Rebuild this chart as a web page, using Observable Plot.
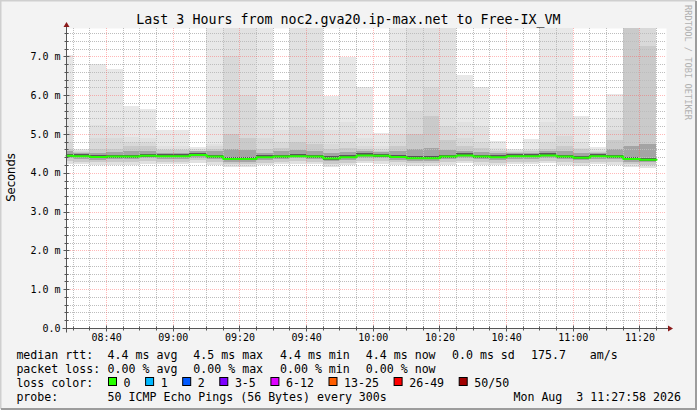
<!DOCTYPE html>
<html><head><meta charset="utf-8">
<script src="https://cdn.jsdelivr.net/npm/d3@7"></script>
<script src="https://cdn.jsdelivr.net/npm/@observablehq/plot@0.6"></script>
<style>
html,body{margin:0;padding:0;background:#f3f3f3;}
svg text{white-space:pre;}
</style></head><body><div id="chart"></div>
<script>
// ---------- data (values in milliseconds) ----------
const day = "2026-08-03";
const startTime = "08:27:58";
const endTime = "11:27:58";
const stepMinutes = 5;
const times = ["08:25","08:30","08:35","08:40","08:45","08:50","08:55","09:00","09:05","09:10","09:15","09:20",
  "09:25","09:30","09:35","09:40","09:45","09:50","09:55","10:00","10:05","10:10","10:15","10:20",
  "10:25","10:30","10:35","10:40","10:45","10:50","10:55","11:00","11:05","11:10","11:15","11:20"];
const median = [4.45,4.44,4.42,4.43,4.43,4.45,4.44,4.44,4.47,4.43,4.37,4.37,4.41,4.43,4.44,4.43,4.38,4.41,4.46,4.45,4.42,4.39,4.39,4.43,4.46,4.43,4.41,4.44,4.44,4.46,4.43,4.40,4.44,4.43,4.37,4.35];
// smoke: upper edges of the ping pairs (k = pings outside the band)
const hi1  = [7.03,4.62,6.80,6.68,5.71,5.65,5.09,5.09,4.67,9,9,9,9,6.39,9,9,5.98,6.97,6.22,5.03,9,9,9,9,6.52,6.21,4.83,4.62,4.88,9,9,5.45,4.66,6.03,9,9];
const hi2  = [5.07,4.58,5.24,5.20,4.91,4.90,4.70,4.70,4.62,4.73,9,9,5.62,5.10,9,9,5.10,5.30,4.90,4.70,6.00,9,9,9,5.30,5.20,4.65,4.58,4.62,5.30,5.60,4.80,4.60,5.40,9,9];
const hi3  = [4.80,4.56,4.90,4.90,4.80,4.78,4.60,4.60,4.60,4.68,7.00,6.00,4.90,4.80,5.20,5.10,4.75,4.80,4.70,4.60,5.00,5.60,6.20,5.20,4.90,4.80,4.58,4.56,4.58,4.80,4.95,4.65,4.56,5.10,9,9];
const hi5  = [4.62,4.54,4.62,4.62,4.68,4.68,4.58,4.58,4.57,4.62,5.00,4.90,4.62,4.65,4.80,4.75,4.60,4.65,4.62,4.57,4.70,5.00,5.45,4.85,4.68,4.65,4.55,4.54,4.56,4.62,4.70,4.62,4.54,4.85,9,7.26];
const hi10 = [4.55,4.52,4.52,4.53,4.55,4.56,4.52,4.52,4.55,4.55,4.60,4.58,4.52,4.55,4.58,4.56,4.50,4.53,4.56,4.53,4.55,4.60,4.65,4.58,4.56,4.54,4.50,4.52,4.52,4.55,4.55,4.52,4.52,4.60,4.70,4.75];
const hi20 = [4.49,4.48,4.46,4.47,4.47,4.49,4.48,4.48,4.51,4.47,4.41,4.41,4.45,4.47,4.48,4.47,4.42,4.45,4.50,4.49,4.46,4.43,4.43,4.47,4.50,4.47,4.45,4.48,4.48,4.50,4.47,4.44,4.48,4.47,4.41,4.39];
// smoke: lower edges
const lo20 = [4.41,4.40,4.38,4.39,4.39,4.41,4.40,4.40,4.43,4.39,4.33,4.33,4.37,4.39,4.40,4.39,4.34,4.37,4.42,4.41,4.38,4.35,4.35,4.39,4.42,4.39,4.37,4.40,4.40,4.42,4.39,4.36,4.40,4.39,4.33,4.31];
const lo10 = [4.37,4.36,4.34,4.35,4.35,4.37,4.36,4.36,4.39,4.35,4.29,4.29,4.33,4.36,4.37,4.36,4.30,4.33,4.38,4.37,4.34,4.31,4.31,4.35,4.38,4.35,4.33,4.36,4.36,4.38,4.35,4.32,4.36,4.35,4.29,4.27];
const lo3  = [4.30,4.29,4.27,4.28,4.28,4.30,4.29,4.29,4.32,4.28,4.22,4.22,4.26,4.29,4.30,4.29,4.23,4.26,4.31,4.30,4.27,4.24,4.24,4.28,4.31,4.28,4.26,4.29,4.29,4.31,4.28,4.25,4.29,4.28,4.22,4.20];
const lo1  = [4.23,4.22,4.20,4.21,4.21,4.23,4.22,4.22,4.25,4.21,4.15,4.15,4.19,4.22,4.23,4.22,4.16,4.19,4.24,4.23,4.20,4.17,4.17,4.21,4.24,4.21,4.19,4.22,4.22,4.24,4.21,4.18,4.22,4.21,4.15,4.13];
const pingsPerRound = 50;

const yMax = 7.73;
const yTickValues = [0,1,2,3,4,5,6,7];
const xTickLabels = ["08:40","09:00","09:20","09:40","10:00","10:20","10:40","11:00","11:20"];

const titleText = "Last 3 Hours from noc2.gva20.ip-max.net to Free-IX_VM";
const yLabel = "Seconds";
const watermark = "RRDTOOL / TOBI OETIKER";
const rttStats = ["median rtt:","4.4 ms avg","4.5 ms max","4.4 ms min","4.4 ms now","0.0 ms sd","175.7","am/s"];
const lossStats = ["packet loss:","0.00 % avg","0.00 % max","0.00 % min","0.00 % now"];
const lossLabels = ["0","1","2","3-5","6-12","13-25","26-49","50/50"];
const lossColors = ["#26ff00","#00b8ff","#0059ff","#7e00ff","#dd00ff","#ff5e00","#ff0000","#a10000"];
const probeText = ["probe:","50 ICMP Echo Pings (56 Bytes) every 300s"];
const dateText = "Mon Aug  3 11:27:58 2026";

// ---------- build ----------
const toDate = s => new Date(`${day}T${s.length === 5 ? s + ":00" : s}Z`);
const x0 = toDate(startTime), x1 = toDate(endTime);
const bars = times.map((t, i) => ({i, t: toDate(t), t2: new Date(+toDate(t) + stepMinutes * 60000)}));
const levels = [
  {k: 1, lo: lo1, hi: hi1}, {k: 2, lo: lo1, hi: hi2}, {k: 3, lo: lo3, hi: hi3},
  {k: 5, lo: lo3, hi: hi5}, {k: 10, lo: lo10, hi: hi10}, {k: 20, lo: lo20, hi: hi20}
];
const half = pingsPerRound / 2;
const grayFor = k => { const g = Math.round(190 / half * (half - k)) + 50; return `rgb(${g},${g},${g})`; };
const medPts = bars.map(b => ({t: b.t, m: median[b.i]}));
medPts.push({t: bars[bars.length - 1].t2, m: median[median.length - 1]});

const minorX = d3.utcMinute.every(5).range(x0, x1);
const majorX = xTickLabels.map(toDate);
const minorXOnly = minorX.filter(d => !majorX.some(m => +m === +d));
const minorY = d3.range(0.2, yMax, 0.2).filter(v => Math.abs(v - Math.round(v)) > 1e-6);
const majorY = yTickValues.filter(v => v > 0);

const mono = "DejaVu Sans Mono";
const plot = Plot.plot({
  width: 697, height: 410,
  marginLeft: 66, marginRight: 31, marginTop: 28, marginBottom: 82,
  style: {background: "#f3f3f3", fontFamily: mono, fontSize: "10px", color: "#000", overflow: "visible"},
  x: {type: "utc", domain: [x0, x1], clamp: true, axis: null},
  y: {domain: [0, yMax], clamp: true, axis: null},
  marks: [
    Plot.frame({fill: "#ffffff", stroke: "none"}),
    ...levels.map(L => Plot.rect(bars, {
      x1: "t", x2: "t2", y1: b => L.lo[b.i], y2: b => L.hi[b.i],
      fill: grayFor(L.k), shapeRendering: "crispEdges"
    })),
    Plot.ruleX(minorXOnly, {stroke: "#bdbdbd", strokeDasharray: "1,1", shapeRendering: "crispEdges"}),
    Plot.ruleY(minorY, {stroke: "#bdbdbd", strokeDasharray: "1,1", shapeRendering: "crispEdges"}),
    Plot.ruleX(majorX, {stroke: "#ff5555", strokeOpacity: 0.42, strokeDasharray: "1,1", shapeRendering: "crispEdges"}),
    Plot.ruleY(majorY, {stroke: "#ff5555", strokeOpacity: 0.42, strokeDasharray: "1,1", shapeRendering: "crispEdges"}),
    Plot.line(medPts, {x: "t", y: "m", curve: "step-after", stroke: "#26ff00", strokeWidth: 2}),
    Plot.axisX(majorX, {tickSize: 0, tickPadding: 5, tickFormat: d3.utcFormat("%H:%M"), label: null, fontSize: 10}),
    Plot.axisY(yTickValues, {tickSize: 0, tickPadding: 6, tickFormat: v => v === 0 ? "0.0" : v.toFixed(1) + " m", label: null, fontSize: 10})
  ]
});
document.getElementById("chart").appendChild(plot);

const svg = d3.select(plot);
const sx = plot.scale("x"), sy = plot.scale("y");
const ax = Math.round(sx.apply(x0)) + 0.5, ay = Math.round(sy.apply(0)) + 0.5;
const axRight = Math.round(sx.apply(x1));
const axisColor = "#555";
const deco = svg.append("g");
for (const v of minorY) deco.append("line").attr("x1", ax - 2).attr("x2", ax + 2).attr("y1", Math.round(sy.apply(v)) + 0.5).attr("y2", Math.round(sy.apply(v)) + 0.5).attr("stroke", axisColor);
for (const v of majorY) deco.append("line").attr("x1", ax - 3).attr("x2", ax + 3).attr("y1", Math.round(sy.apply(v)) + 0.5).attr("y2", Math.round(sy.apply(v)) + 0.5).attr("stroke", axisColor);
for (const d of minorXOnly) deco.append("line").attr("y1", ay - 2).attr("y2", ay + 2).attr("x1", Math.round(sx.apply(d)) + 0.5).attr("x2", Math.round(sx.apply(d)) + 0.5).attr("stroke", axisColor);
for (const d of majorX) deco.append("line").attr("y1", ay - 3).attr("y2", ay + 3).attr("x1", Math.round(sx.apply(d)) + 0.5).attr("x2", Math.round(sx.apply(d)) + 0.5).attr("stroke", axisColor);
deco.append("line").attr("x1", ax - 4).attr("x2", axRight + 2).attr("y1", ay).attr("y2", ay).attr("stroke", axisColor);
deco.append("line").attr("x1", ax).attr("x2", ax).attr("y1", ay + 4).attr("y2", 26).attr("stroke", axisColor);
deco.append("path").attr("d", `M${axRight + 2},${ay - 3}L${axRight + 7},${ay}L${axRight + 2},${ay + 3}Z`).attr("fill", "#8b1a1a");
deco.append("path").attr("d", `M${ax - 3},27L${ax},22L${ax + 3},27Z`).attr("fill", "#8b1a1a");

// border
svg.append("path").attr("d", "M0.5,409V0.5H696").attr("stroke", "#cfcfcf").attr("stroke-width", 2).attr("fill", "none");
svg.append("path").attr("d", "M696,1V409H1").attr("stroke", "#9c9c9c").attr("stroke-width", 2).attr("fill", "none");

// title & labels
svg.append("text").attr("x", 348.5).attr("y", 24).attr("text-anchor", "middle").attr("font-family", mono).attr("font-size", 13.3).attr("fill", "#000").text(titleText);
svg.append("text").attr("transform", "translate(15,177.5) rotate(-90)").attr("text-anchor", "middle").attr("font-family", "DejaVu Sans").attr("font-size", 11.6).attr("fill", "#000").text(yLabel);
svg.append("text").attr("transform", "translate(684.5,5) rotate(90)").attr("text-anchor", "start").attr("font-family", mono).attr("font-size", 8.7).attr("fill", "#b0b0b0").text(watermark);

// legend
const lg = svg.append("g").attr("font-family", mono).attr("font-size", 11.6).attr("fill", "#000").attr("text-anchor", "start");
const rttX = [16.4, 107.6, 193.3, 280, 365.8, 452, 531, 589.8];
rttStats.forEach((s, i) => lg.append("text").attr("x", rttX[i]).attr("y", 358.5).text(s));
const lossX = [16.4, 107.6, 193.3, 280, 365.8];
lossStats.forEach((s, i) => lg.append("text").attr("x", lossX[i]).attr("y", 372.5).text(s));
lg.append("text").attr("x", 16.4).attr("y", 386.5).text("loss color:");
let bx = 108;
lossLabels.forEach((l, i) => {
  lg.append("rect").attr("x", bx + 0.5).attr("y", 377.5).attr("width", 8).attr("height", 8).attr("fill", lossColors[i]).attr("stroke", "#000");
  lg.append("text").attr("x", bx + 15.6).attr("y", 386.5).text(l);
  bx = bx + 15.6 + l.length * 7 + 14.5;
});
lg.append("text").attr("x", 16.4).attr("y", 400.5).text(probeText[0]);
lg.append("text").attr("x", 107.6).attr("y", 400.5).text(probeText[1]);
lg.append("text").attr("x", 681).attr("y", 400.5).attr("text-anchor", "end").text(dateText);
</script></body></html>
